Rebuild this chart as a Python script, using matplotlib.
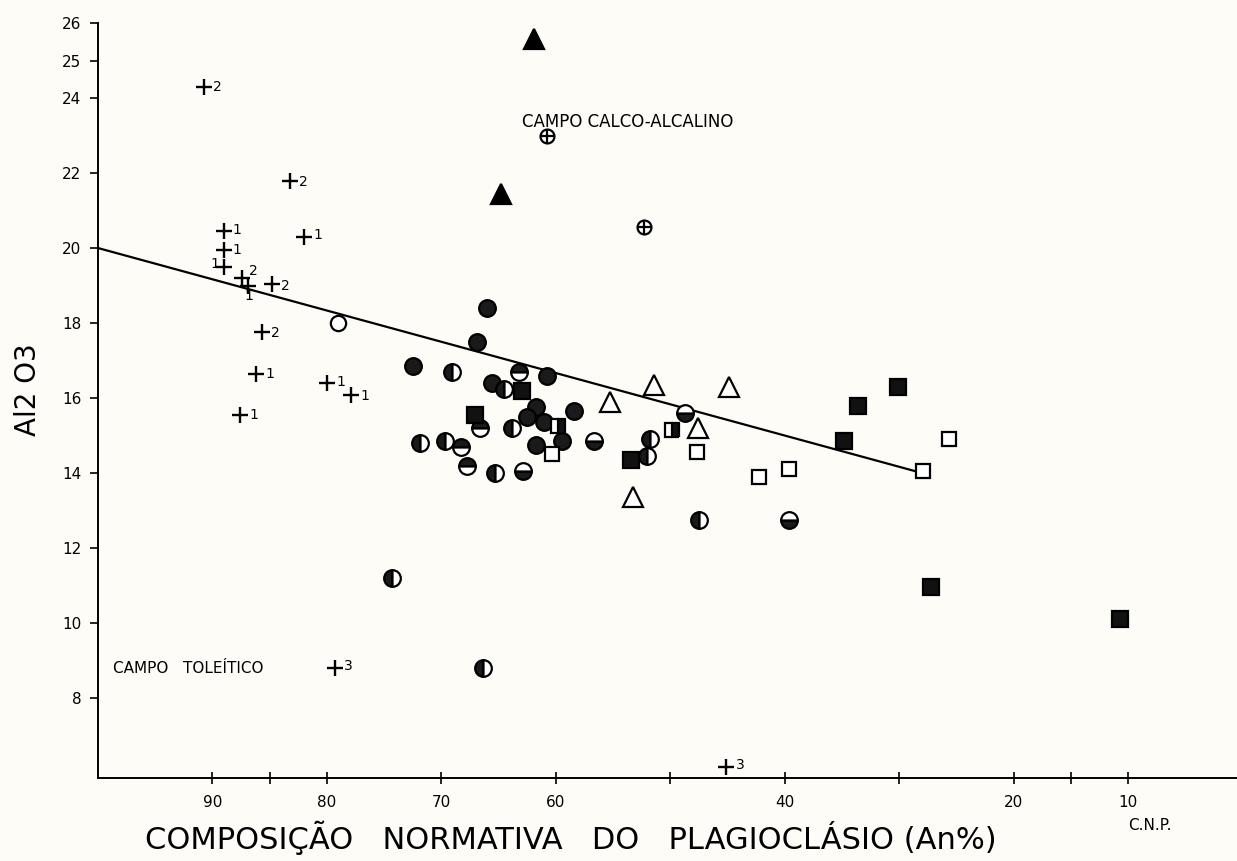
import matplotlib.pyplot as plt
import numpy as np

# dados (An% , Al2O3)
cruz_x = [90.7, 83.2, 89.0, 82.0, 89.0, 88.95, 87.4, 86.9, 84.8, 85.7, 86.2, 80.0, 77.9, 87.6, 79.3, 45.1]
cruz_y = [24.3, 21.8, 20.45, 20.3, 19.95, 19.5, 19.2, 19.0, 19.05, 17.75, 16.65, 16.4, 16.07, 15.56, 8.8, 6.15]
cruz_lab = ["2", "2", "1", "1", "1", "1", "2", "1", "2", "2", "1", "1", "1", "1", "3", "3"]
# posicao do numero em relacao a cruz (pixels)
cruz_off = [(9, 0), (9, -1), (9, 1), (9, 2), (9, 0), (-14, 3), (7, 7), (-4, -10), (9, -2), (9, -1),
            (9, 0), (9, 1), (9, -1), (9, 0), (9, 2), (9, 2)]

circ_cheio_x = [66.0, 66.9, 72.5, 65.6, 60.8, 61.7, 58.4, 62.5, 61.0, 59.5, 61.7]
circ_cheio_y = [18.4, 17.5, 16.85, 16.4, 16.6, 15.75, 15.65, 15.5, 15.35, 14.85, 14.75]

circ_esq_x = [69.1, 64.5, 63.8, 71.9, 69.7, 65.3, 51.8, 52.0, 47.5, 74.35, 66.4]
circ_esq_y = [16.7, 16.25, 15.2, 14.8, 14.85, 14.0, 14.9, 14.45, 12.75, 11.2, 8.8]

circ_sup_x = [63.2, 66.6, 68.3, 67.8]
circ_sup_y = [16.7, 15.2, 14.7, 14.2]

circ_inf_x = [62.9, 56.7, 48.7, 39.65]
circ_inf_y = [14.05, 14.85, 15.6, 12.75]

circ_aberto_x = [79.0]
circ_aberto_y = [18.0]

circ_mais_x = [60.8, 52.3]
circ_mais_y = [23.0, 20.55]

tri_cheio_x = [61.9, 64.8]
tri_cheio_y = [25.57, 21.45]

tri_aberto_x = [55.3, 51.45, 44.9, 47.6, 53.3]
tri_aberto_y = [15.9, 16.35, 16.3, 15.2, 13.35]

quad_aberto_x = [60.3, 47.7, 42.3, 39.6, 27.9, 25.7]
quad_aberto_y = [14.5, 14.55, 13.9, 14.1, 14.05, 14.9]

quad_cheio_x = [30.1, 33.6, 34.8, 27.2, 10.7, 53.4, 67.1, 63.0]
quad_cheio_y = [16.3, 15.8, 14.85, 10.95, 10.1, 14.35, 15.55, 16.2]

quad_meio_x = [49.9, 59.8]
quad_meio_y = [15.15, 15.25]

# reta divisoria
reta_x = [100, 28]
reta_y = [20.0, 14.0]

fundo = '#fdfcf6'
fig = plt.figure(figsize=(12.37, 8.61), dpi=100, facecolor=fundo)
ax = fig.add_axes([98 / 1237, 1 - 778 / 861, 1 - 98 / 1237, (778 - 23) / 861])
ax.set_facecolor(fundo)

ax.plot(reta_x, reta_y, color='black', lw=1.6, zorder=2)

kw = dict(ls='none', color='black', markeredgecolor='black', markeredgewidth=1.6, zorder=3)
ax.plot(cruz_x, cruz_y, marker='+', ms=11, markeredgewidth=1.7, ls='none', color='black', zorder=3)
for x, y, t, (dx, dy) in zip(cruz_x, cruz_y, cruz_lab, cruz_off):
    ax.annotate(t, (x, y), xytext=(dx, dy), textcoords='offset pixels', fontsize=10,
                ha='left', va='center')

ax.plot(circ_cheio_x, circ_cheio_y, marker='o', ms=12, markerfacecolor='#1a1a1a', **kw)
ax.plot(circ_esq_x, circ_esq_y, marker='o', ms=12, fillstyle='left', markerfacecolor='#1a1a1a',
        markerfacecoloralt='white', **kw)
ax.plot(circ_sup_x, circ_sup_y, marker='o', ms=12, fillstyle='top', markerfacecolor='#1a1a1a',
        markerfacecoloralt='white', **kw)
ax.plot(circ_inf_x, circ_inf_y, marker='o', ms=12, fillstyle='bottom', markerfacecolor='#1a1a1a',
        markerfacecoloralt='white', **kw)
ax.plot(circ_aberto_x, circ_aberto_y, marker='o', ms=11, markerfacecolor='white', **kw)
ax.plot(circ_mais_x, circ_mais_y, marker='o', ms=10, markerfacecolor='white', **kw)
ax.plot(circ_mais_x, circ_mais_y, marker='+', ms=10, **kw)

ax.plot(tri_cheio_x, tri_cheio_y, marker='^', ms=14, markerfacecolor='black', **kw)
ax.plot(tri_aberto_x, tri_aberto_y, marker='^', ms=15, markerfacecolor='white', **kw)

ax.plot(quad_aberto_x, quad_aberto_y, marker='s', ms=10, markerfacecolor='white', **kw)
ax.plot(quad_cheio_x, quad_cheio_y, marker='s', ms=11, markerfacecolor='#111111', **kw)
ax.plot(quad_meio_x, quad_meio_y, marker='s', ms=10, fillstyle='right', markerfacecolor='#111111',
        markerfacecoloralt='white', **kw)

ax.text(63.0, 23.36, "CAMPO CALCO-ALCALINO", fontsize=12, ha='left', va='center')
ax.text(98.7, 8.8, "CAMPO   TOLEÍTICO", fontsize=11, ha='left', va='center')

ax.set_xlim(100, 0.5)
ax.set_ylim(5.87, 26)
ax.spines['top'].set_visible(False)
ax.spines['right'].set_visible(False)
ax.spines['left'].set_linewidth(1.4)
ax.spines['bottom'].set_linewidth(1.4)

ax.set_xticks([90, 85, 80, 70, 60, 50, 40, 30, 20, 15, 10])
ax.set_xticklabels(["90", "", "80", "70", "60", "", "40", "", "20", "", "10"], fontsize=11)
ax.tick_params(axis='x', direction='inout', length=8, width=1.2, pad=8)
ax.set_yticks([26, 25, 24, 22, 20, 18, 16, 14, 12, 10, 8])
ax.set_yticklabels(["26", "25", "24", "22", "20", "18", "16", "14", "12", "10", "8"], fontsize=11)
ax.tick_params(axis='y', direction='out', length=6, width=1.2, pad=6)

fig.text(28 / 1237, 1 - 390 / 861, "Al2 O3", rotation=90, fontsize=20, ha='center', va='center')
fig.text(571 / 1237, 1 - 838 / 861, "COMPOSIÇÃO   NORMATIVA   DO   PLAGIOCLÁSIO (An%)", fontsize=22,
         ha='center', va='center')
fig.text(1150 / 1237, 1 - 826 / 861, "C.N.P.", fontsize=11, ha='center', va='center')

fig.savefig('out.png', dpi=100, facecolor=fundo)
